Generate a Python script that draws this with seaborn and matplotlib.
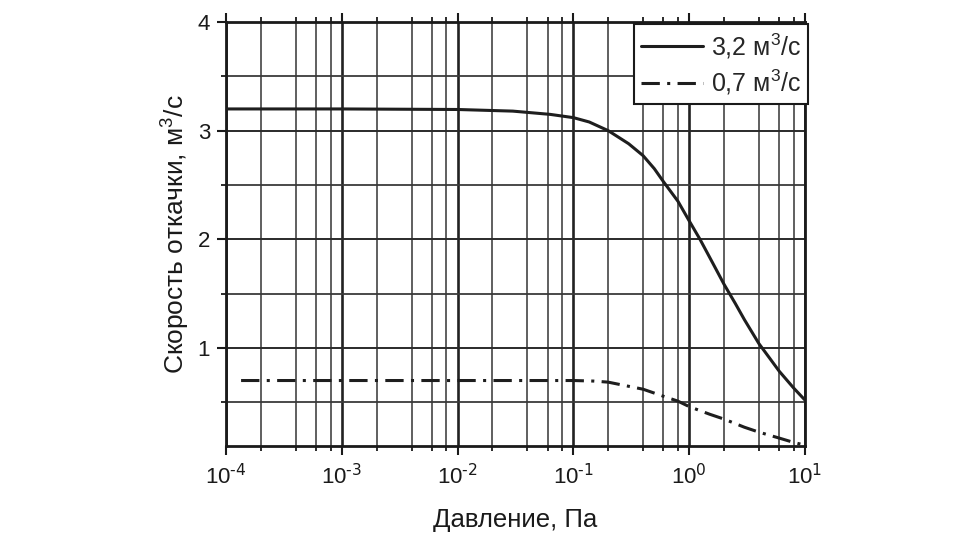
import matplotlib

matplotlib.use("Agg")

import matplotlib.pyplot as plt
import numpy as np
import pandas as pd
import seaborn as sns
from matplotlib.ticker import (
    FixedLocator,
    FuncFormatter,
    LogLocator,
    MultipleLocator,
    NullFormatter,
)

# values
pressure_high = [1e-4, 1e-3, 1e-2, 3e-2, 6.3e-2, 0.1, 0.137, 0.2, 0.3, 0.4, 0.5,
                 0.6, 0.8, 1.0, 1.24, 1.6, 2.0, 2.5, 3.0, 4.0, 5.0, 6.0, 8.0, 10.0]
speed_high = [3.20, 3.20, 3.195, 3.18, 3.15, 3.12, 3.08, 3.00, 2.88, 2.77, 2.65,
              2.53, 2.35, 2.17, 2.00, 1.78, 1.586, 1.41, 1.26, 1.04, 0.90, 0.785,
              0.63, 0.52]

pressure_low = [1.35e-4, 1e-3, 1e-2, 0.1, 0.15, 0.2, 0.4, 0.6, 0.8, 1.0, 1.5,
                2.0, 3.0, 4.0, 6.0, 8.0, 10.0]
speed_low = [0.70, 0.70, 0.70, 0.70, 0.695, 0.685, 0.62, 0.555, 0.51, 0.46,
             0.39, 0.345, 0.27, 0.225, 0.17, 0.13, 0.105]

label_high = "3,2 м$^3$/с"
label_low = "0,7 м$^3$/с"
x_label = "Давление, Па"
y_label = "Скорость откачки, м$^3$/с"
x_limits = [1e-4, 10]
y_limits = [0.1, 4]
y_ticks = [1, 2, 3, 4]


def decade_label(value, pos):
    exponent = int(round(np.log10(value)))
    return "10$^{\\text{" + str(exponent) + "}}$"


sns.set_theme(style="ticks")
plt.rcParams["font.family"] = ["Liberation Sans", "DejaVu Sans"]
plt.rcParams["mathtext.default"] = "regular"

high = pd.DataFrame({"pressure": pressure_high, "speed": speed_high})
low = pd.DataFrame({"pressure": pressure_low, "speed": speed_low})

fig = plt.figure(figsize=(9.8, 5.51), dpi=100)
ax = fig.add_axes([0.2306, 0.1911, 0.5908, 0.7689])

sns.lineplot(data=high, x="pressure", y="speed", ax=ax, color="#1e1e1e",
             linewidth=2.2, label=label_high, zorder=3)
sns.lineplot(data=low, x="pressure", y="speed", ax=ax, color="#1e1e1e",
             linewidth=2.2, label=label_low, zorder=3,
             linestyle=(0, (6.0, 2.4, 1.0, 2.4)))

ax.set_xscale("log")
ax.set_xlim(x_limits)
ax.set_ylim(y_limits)
ax.xaxis.set_major_locator(LogLocator(base=10, numticks=10))
ax.xaxis.set_major_formatter(FuncFormatter(decade_label))
ax.xaxis.set_minor_locator(LogLocator(base=10, subs=[2, 4, 6, 8], numticks=20))
ax.xaxis.set_minor_formatter(NullFormatter())
ax.yaxis.set_major_locator(FixedLocator(y_ticks))
ax.yaxis.set_minor_locator(MultipleLocator(0.5))

ax.grid(which="major", axis="x", color="#222222", linewidth=1.9)
ax.grid(which="minor", axis="x", color="#444444", linewidth=1.2)
ax.grid(which="major", axis="y", color="#2a2a2a", linewidth=1.4)
ax.grid(which="minor", axis="y", color="#3a3a3a", linewidth=1.3)

for spine in ax.spines.values():
    spine.set_visible(True)
    spine.set_color("#1a1a1a")
    spine.set_linewidth(2.0)

ax.tick_params(which="major", direction="out", length=6.5, width=1.5,
               color="#1a1a1a", labelsize=16, labelcolor="#1a1a1a")
ax.tick_params(which="minor", direction="out", length=3.5, width=1.3,
               color="#1a1a1a")
ax.tick_params(axis="x", which="both", top=True, bottom=True)
ax.tick_params(axis="x", which="major", pad=7)
ax.tick_params(axis="y", which="major", pad=5)
ax.tick_params(axis="y", which="both", left=True, right=False)

ax.set_xlabel(x_label, fontsize=18.5, color="#1a1a1a", labelpad=13)
ax.set_ylabel(y_label, fontsize=19, color="#1a1a1a", labelpad=4)

legend = ax.legend(loc="upper right", bbox_to_anchor=(1.005, 0.995),
                   borderaxespad=0, fontsize=18, frameon=True, fancybox=False,
                   framealpha=1, edgecolor="#1a1a1a", handlelength=2.5,
                   labelspacing=0.3, borderpad=0.28, handletextpad=0.3)
legend.get_frame().set_linewidth(1.5)
legend.set_zorder(5)

fig.savefig("out.png", dpi=100)
